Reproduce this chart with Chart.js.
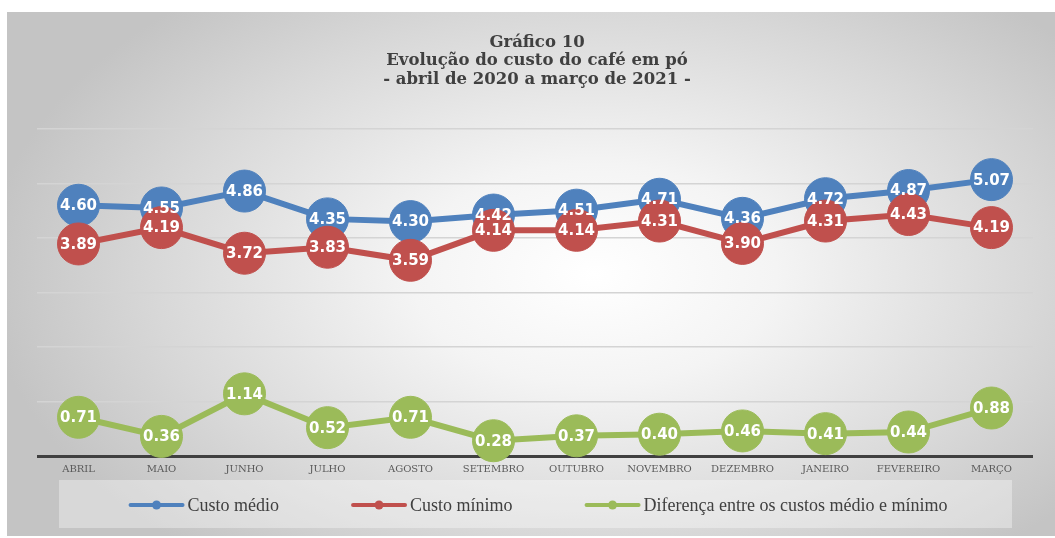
<!DOCTYPE html>
<html>
<head>
<meta charset="utf-8">
<script src="https://cdn.jsdelivr.net/npm/chart.js@4.4.1/dist/chart.umd.min.js"></script>
<style>
  html, body { margin: 0; padding: 0; background: #fff; }
  #wrap { position: relative; width: 1055px; height: 538px; }
  #bg {
    position: absolute; left: 7px; top: 12px; width: 1048px; height: 524px;
    background: radial-gradient(ellipse 58% 70% at 56% 50%, #ffffff 0%, #f4f4f4 30%, #d8d8d8 72%, #c4c4c4 100%);
  }
  canvas { position: absolute; left: 0; top: 0; }
</style>
</head>
<body>
<div id="wrap">
  <div id="bg"></div>
  <canvas id="chart" width="1055" height="538"></canvas>
</div>
<script>
const months = ['ABRIL', 'MAIO', 'JUNHO', 'JULHO', 'AGOSTO', 'SETEMBRO', 'OUTUBRO', 'NOVEMBRO', 'DEZEMBRO', 'JANEIRO', 'FEVEREIRO', 'MARÇO'];
const custoMedio = [4.60, 4.55, 4.86, 4.35, 4.30, 4.42, 4.51, 4.71, 4.36, 4.72, 4.87, 5.07];
const custoMinimo = [3.89, 4.19, 3.72, 3.83, 3.59, 4.14, 4.14, 4.31, 3.90, 4.31, 4.43, 4.19];
const diferenca = [0.71, 0.36, 1.14, 0.52, 0.71, 0.28, 0.37, 0.40, 0.46, 0.41, 0.44, 0.88];

const BLUE = '#4f81bd', RED = '#c0504d', GREEN = '#9bbb59';

// numbers on top of the points
const valueLabels = {
    id: 'valueLabels',
    afterDatasetsDraw(chart) {
        const ctx = chart.ctx;
        ctx.save();
        ctx.font = 'bold 15px "DejaVu Sans", Verdana, sans-serif';
        ctx.fillStyle = '#ffffff';
        ctx.textAlign = 'center';
        ctx.textBaseline = 'middle';
        chart.data.datasets.forEach((ds, i) => {
            chart.getDatasetMeta(i).data.forEach((pt, j) => {
                ctx.fillText(ds.data[j].toFixed(2), pt.x, pt.y + 1);
            });
        });
        ctx.restore();
    }
};

// legend drawn by hand: Chart.js legend can't space items this wide
const customLegend = {
    id: 'customLegend',
    beforeDraw(chart) {
        const ctx = chart.ctx;
        ctx.save();
        ctx.fillStyle = 'rgba(255,255,255,0.35)';
        ctx.fillRect(59, 480, 953, 48);
        ctx.restore();
    },
    afterDraw(chart) {
        const ctx = chart.ctx;
        const y = 505, lineW = 56, gapText = 3, gapItem = 72;
        ctx.save();
        ctx.font = '18px "Liberation Serif", serif';
        ctx.textBaseline = 'middle';
        const items = chart.data.datasets.map(ds => ({ text: ds.label, color: ds.borderColor, w: ctx.measureText(ds.label).width }));
        const total = items.reduce((s, it) => s + lineW + gapText + it.w, 0) + gapItem * (items.length - 1);
        let x = 538 - total / 2;
        items.forEach(it => {
            ctx.strokeStyle = it.color;
            ctx.lineWidth = 4;
            ctx.lineCap = 'round';
            ctx.beginPath();
            ctx.moveTo(x + 2, y);
            ctx.lineTo(x + lineW - 2, y);
            ctx.stroke();
            ctx.fillStyle = it.color;
            ctx.beginPath();
            ctx.arc(x + lineW / 2, y, 4.5, 0, Math.PI * 2);
            ctx.fill();
            ctx.fillStyle = '#404040';
            ctx.fillText(it.text, x + lineW + gapText, y + 1);
            x += lineW + gapText + it.w + gapItem;
        });
        ctx.restore();
    }
};

function lineSet(label, data, color, order) {
    return {
        label, data, order,
        borderColor: color, backgroundColor: color,
        pointBackgroundColor: color, pointBorderColor: color,
        borderWidth: 6, pointRadius: 21, pointHoverRadius: 21, pointBorderWidth: 1,
        clip: false, tension: 0
    };
}

new Chart(document.getElementById('chart'), {
    type: 'line',
    data: {
        labels: months,
        datasets: [
            lineSet('Custo médio', custoMedio, BLUE, 2),
            lineSet('Custo mínimo', custoMinimo, RED, 1),
            lineSet('Diferença entre os custos médio e mínimo', diferenca, GREEN, 3)
        ]
    },
    options: {
        responsive: false,
        animation: false,
        events: [],
        layout: { padding: { left: 37, right: 18, top: 33, bottom: 56 } },
        scales: {
            x: {
                offset: true,
                grid: { display: false, drawTicks: false },
                border: { display: false },
                ticks: { color: '#595959', font: { family: '"DejaVu Serif", serif', size: 10 }, padding: 7, maxRotation: 0 }
            },
            y: {
                min: 0, max: 6,
                ticks: { display: false, stepSize: 1 },
                border: { display: false },
                grid: {
                    drawTicks: false,
                    color: c => c.tick && c.tick.value === 0 ? '#404040' : '#d4d4d4',
                    lineWidth: c => c.tick && c.tick.value === 0 ? 3 : 1.5
                }
            }
        },
        plugins: {
            title: {
                display: true,
                text: ['Gráfico 10', 'Evolução do custo do café em pó', '- abril de 2020 a março de 2021 -'],
                color: '#404040',
                font: { family: '"DejaVu Serif", serif', size: 16.5, weight: 'bold', lineHeight: 1.13 },
                padding: { top: 0, bottom: 40 }
            },
            legend: { display: false },
            tooltip: { enabled: false }
        }
    },
    plugins: [customLegend, valueLabels]
});
</script>
</body>
</html>
